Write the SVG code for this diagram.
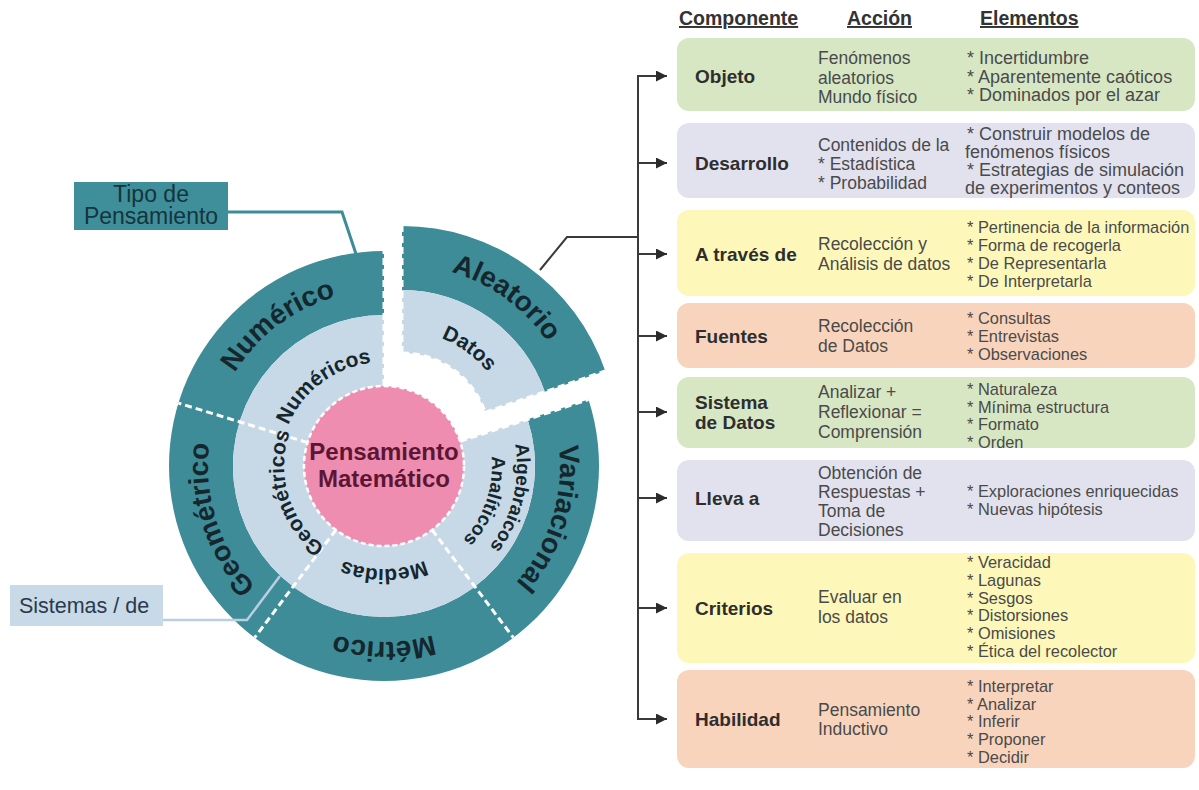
<svg xmlns="http://www.w3.org/2000/svg" width="1199" height="790" viewBox="0 0 1199 790">
  <style>
    text { font-family: "Liberation Sans", Arial, sans-serif; }
    .ring-out { font-size: 28px; font-weight: bold; fill: #15272d; }
    .ring-in { font-size: 21px; font-weight: bold; fill: #15272d; }
    .ring-in2 { font-size: 19px; font-weight: bold; fill: #15272d; }
    .core { font-size: 24px; font-weight: bold; fill: #5c1634; text-anchor: middle; }
    .dash { stroke: #ffffff; stroke-width: 3; stroke-dasharray: 7 4; fill: none; }
    .hdr { font-size: 19.5px; font-weight: bold; fill: #333333; text-decoration: underline; }
    .comp { font-size: 19px; font-weight: bold; fill: #2e2e2e; }
    .acc { font-size: 17.5px; fill: #4a4a4a; }
    .ele { font-size: 16.4px; fill: #4a4a4a; }
    .ele-l { font-size: 18px; fill: #4a4a4a; }
    .conn { stroke: #3a3a3a; stroke-width: 2; fill: none; }
    .green { fill: #d7e7c4; }
    .lav { fill: #e2e2ef; }
    .yel { fill: #fdf8b9; }
    .peach { fill: #f9d4bc; }
  </style>
  <defs>
    <marker id="arrow" viewBox="0 0 10 10" refX="10" refY="5" markerUnits="userSpaceOnUse" markerWidth="13" markerHeight="11" orient="auto">
      <path d="M0,0 L10,5 L0,10 z" fill="#2b2b2b"/>
    </marker>
    <!-- baseline arcs for the curved ring labels (clockwise) -->
    <path id="pNumerico" d="M209.3,487.4 A176,176 0 0 1 452.8,304.0"/>
    <path id="pGeometrico" d="M347.4,638.2 A176,176 0 0 1 253.2,348.2"/>
    <path id="pMetrico" d="M536.4,554 A176,176 0 0 1 231.6,554"/>
    <path id="pVariacional" d="M513.8,347.1 A176,176 0 0 1 422.1,637.8"/>
    <path id="pAleatorio" d="M330.4,280.2 A176,176 0 0 1 577.0,459.4"/>
    <path id="pNumericos" d="M280.8,478.7 A104,104 0 0 1 424.6,370.3"/>
    <path id="pGeometricos" d="M361.5,563.4 A100,100 0 0 1 310.9,397.8"/>
    <path id="pMedidas" d="M473.2,517.5 A103,103 0 0 1 294.8,517.5"/>
    <path id="pAlgebraicos" d="M476.4,370.3 A133,133 0 0 1 420.7,593.8"/>
    <path id="pAnaliticos" d="M465.5,395.1 A108,108 0 0 1 404.6,572.0"/>
    <path id="pDatos" d="M357.3,340.5 A110,110 0 0 1 511.4,452.5"/>
  </defs>

  <rect width="1199" height="790" fill="#ffffff"/>

  <!-- callout: Tipo de Pensamiento -->
  <g id="label-tipo">
    <path d="M228,212 H342 L356,254" fill="none" stroke="#3d8c98" stroke-width="3"/>
    <rect x="74" y="182" width="154" height="48" fill="#3f8f9a"/>
    <text x="151" y="202" font-size="23" fill="#16343c" text-anchor="middle">Tipo de</text>
    <text x="151" y="224" font-size="23" fill="#16343c" text-anchor="middle">Pensamiento</text>
  </g>

  <!-- main wheel: outer ring (tipo de pensamiento) and inner ring (sistemas) -->
  <g id="wheel">
    <path d="M588.5,399.6 A215,215 0 1 1 384,251 L384,315 A151,151 0 1 0 527.6,419.3 Z" fill="#3d8c98"/>
    <path d="M527.6,419.3 A151,151 0 1 1 384,315 L384,386 A80,80 0 1 0 460.1,441.3 Z" fill="#c7d8e6"/>
    <!-- sector dividers -->
    <line class="dash" x1="307.5" y1="442.6" x2="178.4" y2="403.1"/>
    <line class="dash" x1="335.9" y1="529.9" x2="254.6" y2="637.7"/>
    <line class="dash" x1="432.1" y1="529.9" x2="513.4" y2="637.7"/>
    <line class="dash" x1="384" y1="386" x2="384" y2="251"/>
    <line class="dash" x1="460.1" y1="441.3" x2="588.5" y2="399.6"/>
  </g>

  <!-- detached sector: Aleatorio / Datos -->
  <g id="sector-aleatorio">
    <path d="M402,226 A215,215 0 0 1 605.3,371 L544.8,391.8 A151,151 0 0 0 402,290 Z" fill="#3d8c98"/>
    <path d="M402,290 A151,151 0 0 1 544.8,391.8 L485.2,412.3 A88,88 0 0 0 402,353 Z" fill="#c7d8e6"/>
    <line class="dash" x1="402" y1="353" x2="402" y2="226"/>
    <line class="dash" x1="485.2" y1="412.3" x2="605.3" y2="371"/>
    <path class="dash" d="M402,353 A88,88 0 0 1 485.2,412.3"/>
    <text class="ring-out"><textPath href="#pAleatorio" startOffset="50%" text-anchor="middle">Aleatorio</textPath></text>
    <text class="ring-in"><textPath href="#pDatos" startOffset="50%" text-anchor="middle">Datos</textPath></text>
  </g>

  <g id="sector-numerico">
    <text class="ring-out"><textPath href="#pNumerico" startOffset="50%" text-anchor="middle">Numérico</textPath></text>
    <text class="ring-in"><textPath href="#pNumericos" startOffset="50%" text-anchor="middle">Numéricos</textPath></text>
  </g>
  <g id="sector-geometrico">
    <text class="ring-out"><textPath href="#pGeometrico" startOffset="50%" text-anchor="middle">Geométrico</textPath></text>
    <text class="ring-in"><textPath href="#pGeometricos" startOffset="50%" text-anchor="middle">Geométricos</textPath></text>
  </g>
  <g id="sector-metrico">
    <text class="ring-out"><textPath href="#pMetrico" startOffset="50%" text-anchor="middle">Métrico</textPath></text>
    <text class="ring-in"><textPath href="#pMedidas" startOffset="50%" text-anchor="middle">Medidas</textPath></text>
  </g>
  <g id="sector-variacional">
    <text class="ring-out"><textPath href="#pVariacional" startOffset="50%" text-anchor="middle">Variacional</textPath></text>
    <text class="ring-in2"><textPath href="#pAlgebraicos" startOffset="50%" text-anchor="middle">Algebraicos</textPath></text>
    <text class="ring-in2"><textPath href="#pAnaliticos" startOffset="50%" text-anchor="middle">Analíticos</textPath></text>
  </g>

  <!-- hub -->
  <g id="hub">
    <circle cx="384" cy="466" r="80" fill="#ef8db0" stroke="#ffffff" stroke-width="2.5" stroke-dasharray="5 3"/>
    <text class="core" x="384" y="460">Pensamiento</text>
    <text class="core" x="384" y="487">Matemático</text>
  </g>

  <!-- callout: Sistemas / de -->
  <g id="label-sistemas">
    <path d="M163,620 H247 L280,576" fill="none" stroke="#b9cfe1" stroke-width="2.5"/>
    <rect x="10" y="585" width="153" height="41" fill="#c8d9e7"/>
    <text x="84" y="613" font-size="21.5" fill="#2b3a4e" text-anchor="middle">Sistemas / de</text>
  </g>

  <!-- column headers -->
  <g id="headers">
    <text class="hdr" x="679" y="25">Componente</text>
    <text class="hdr" x="847" y="25">Acción</text>
    <text class="hdr" x="980" y="25">Elementos</text>
  </g>

  <!-- connectors -->
  <g id="connectors">
    <polyline class="conn" points="540,270 567,237 638,237"/>
    <line class="conn" x1="638" y1="76" x2="638" y2="719"/>
    <line class="conn" x1="637" y1="76" x2="667" y2="76" marker-end="url(#arrow)"/>
    <line class="conn" x1="638" y1="163" x2="667" y2="163" marker-end="url(#arrow)"/>
    <line class="conn" x1="638" y1="254" x2="667" y2="254" marker-end="url(#arrow)"/>
    <line class="conn" x1="638" y1="336" x2="667" y2="336" marker-end="url(#arrow)"/>
    <line class="conn" x1="638" y1="412" x2="667" y2="412" marker-end="url(#arrow)"/>
    <line class="conn" x1="638" y1="498" x2="667" y2="498" marker-end="url(#arrow)"/>
    <line class="conn" x1="638" y1="608" x2="667" y2="608" marker-end="url(#arrow)"/>
    <line class="conn" x1="637" y1="719" x2="667" y2="719" marker-end="url(#arrow)"/>
  </g>

  <g id="row-objeto">
    <rect class="green" x="677" y="38" width="518" height="73" rx="12"/>
    <text class="comp" x="695" y="83">Objeto</text>
    <text class="acc"><tspan x="818" y="64">Fenómenos</tspan><tspan x="818" y="83.5">aleatorios</tspan><tspan x="818" y="103">Mundo físico</tspan></text>
    <text class="ele-l"><tspan x="967" y="64">* Incertidumbre</tspan><tspan x="967" y="83">* Aparentemente caóticos</tspan><tspan x="967" y="101">* Dominados por el azar</tspan></text>
  </g>

  <g id="row-desarrollo">
    <rect class="lav" x="677" y="123" width="518" height="75" rx="12"/>
    <text class="comp" x="695" y="170">Desarrollo</text>
    <text class="acc"><tspan x="818" y="151">Contenidos de la</tspan><tspan x="818" y="170">* Estadística</tspan><tspan x="818" y="189">* Probabilidad</tspan></text>
    <text class="ele-l"><tspan x="967" y="139.5">* Construir modelos de</tspan><tspan x="965" y="157.5">fenómenos físicos</tspan><tspan x="967" y="175.5">* Estrategias de simulación</tspan><tspan x="965" y="193.5">de experimentos y conteos</tspan></text>
  </g>

  <g id="row-traves">
    <rect class="yel" x="677" y="210" width="518" height="86" rx="12"/>
    <text class="comp" x="695" y="261">A través de</text>
    <text class="acc"><tspan x="818" y="250">Recolección y</tspan><tspan x="818" y="269.5">Análisis de datos</tspan></text>
    <text class="ele"><tspan x="967" y="233">* Pertinencia de la información</tspan><tspan x="967" y="251">* Forma de recogerla</tspan><tspan x="967" y="269">* De Representarla</tspan><tspan x="967" y="287">* De Interpretarla</tspan></text>
  </g>

  <g id="row-fuentes">
    <rect class="peach" x="677" y="303" width="518" height="65" rx="12"/>
    <text class="comp" x="695" y="343">Fuentes</text>
    <text class="acc"><tspan x="818" y="332">Recolección</tspan><tspan x="818" y="352">de Datos</tspan></text>
    <text class="ele"><tspan x="967" y="324">* Consultas</tspan><tspan x="967" y="342">* Entrevistas</tspan><tspan x="967" y="360">* Observaciones</tspan></text>
  </g>

  <g id="row-sistema">
    <rect class="green" x="677" y="377" width="518" height="71" rx="12"/>
    <text class="comp"><tspan x="695" y="409">Sistema</tspan><tspan x="695" y="429">de Datos</tspan></text>
    <text class="acc"><tspan x="818" y="398">Analizar +</tspan><tspan x="818" y="418">Reflexionar =</tspan><tspan x="818" y="438">Comprensión</tspan></text>
    <text class="ele"><tspan x="967" y="395">* Naturaleza</tspan><tspan x="967" y="413">* Mínima estructura</tspan><tspan x="967" y="430">* Formato</tspan><tspan x="967" y="448">* Orden</tspan></text>
  </g>

  <g id="row-lleva">
    <rect class="lav" x="677" y="460" width="518" height="81" rx="12"/>
    <text class="comp" x="695" y="505">Lleva a</text>
    <text class="acc"><tspan x="818" y="479">Obtención de</tspan><tspan x="818" y="498">Respuestas +</tspan><tspan x="818" y="517">Toma de</tspan><tspan x="818" y="536">Decisiones</tspan></text>
    <text class="ele"><tspan x="967" y="497">* Exploraciones enriquecidas</tspan><tspan x="967" y="515">* Nuevas hipótesis</tspan></text>
  </g>

  <g id="row-criterios">
    <rect class="yel" x="677" y="553" width="518" height="110" rx="12"/>
    <text class="comp" x="695" y="615">Criterios</text>
    <text class="acc"><tspan x="818" y="603">Evaluar en</tspan><tspan x="818" y="623">los datos</tspan></text>
    <text class="ele"><tspan x="967" y="568">* Veracidad</tspan><tspan x="967" y="586">* Lagunas</tspan><tspan x="967" y="604">* Sesgos</tspan><tspan x="967" y="621">* Distorsiones</tspan><tspan x="967" y="639">* Omisiones</tspan><tspan x="967" y="657">* Ética del recolector</tspan></text>
  </g>

  <g id="row-habilidad">
    <rect class="peach" x="677" y="670" width="518" height="98" rx="12"/>
    <text class="comp" x="695" y="726">Habilidad</text>
    <text class="acc"><tspan x="818" y="716">Pensamiento</tspan><tspan x="818" y="735">Inductivo</tspan></text>
    <text class="ele"><tspan x="967" y="692">* Interpretar</tspan><tspan x="967" y="710">* Analizar</tspan><tspan x="967" y="727">* Inferir</tspan><tspan x="967" y="745">* Proponer</tspan><tspan x="967" y="763">* Decidir</tspan></text>
  </g>
</svg>
